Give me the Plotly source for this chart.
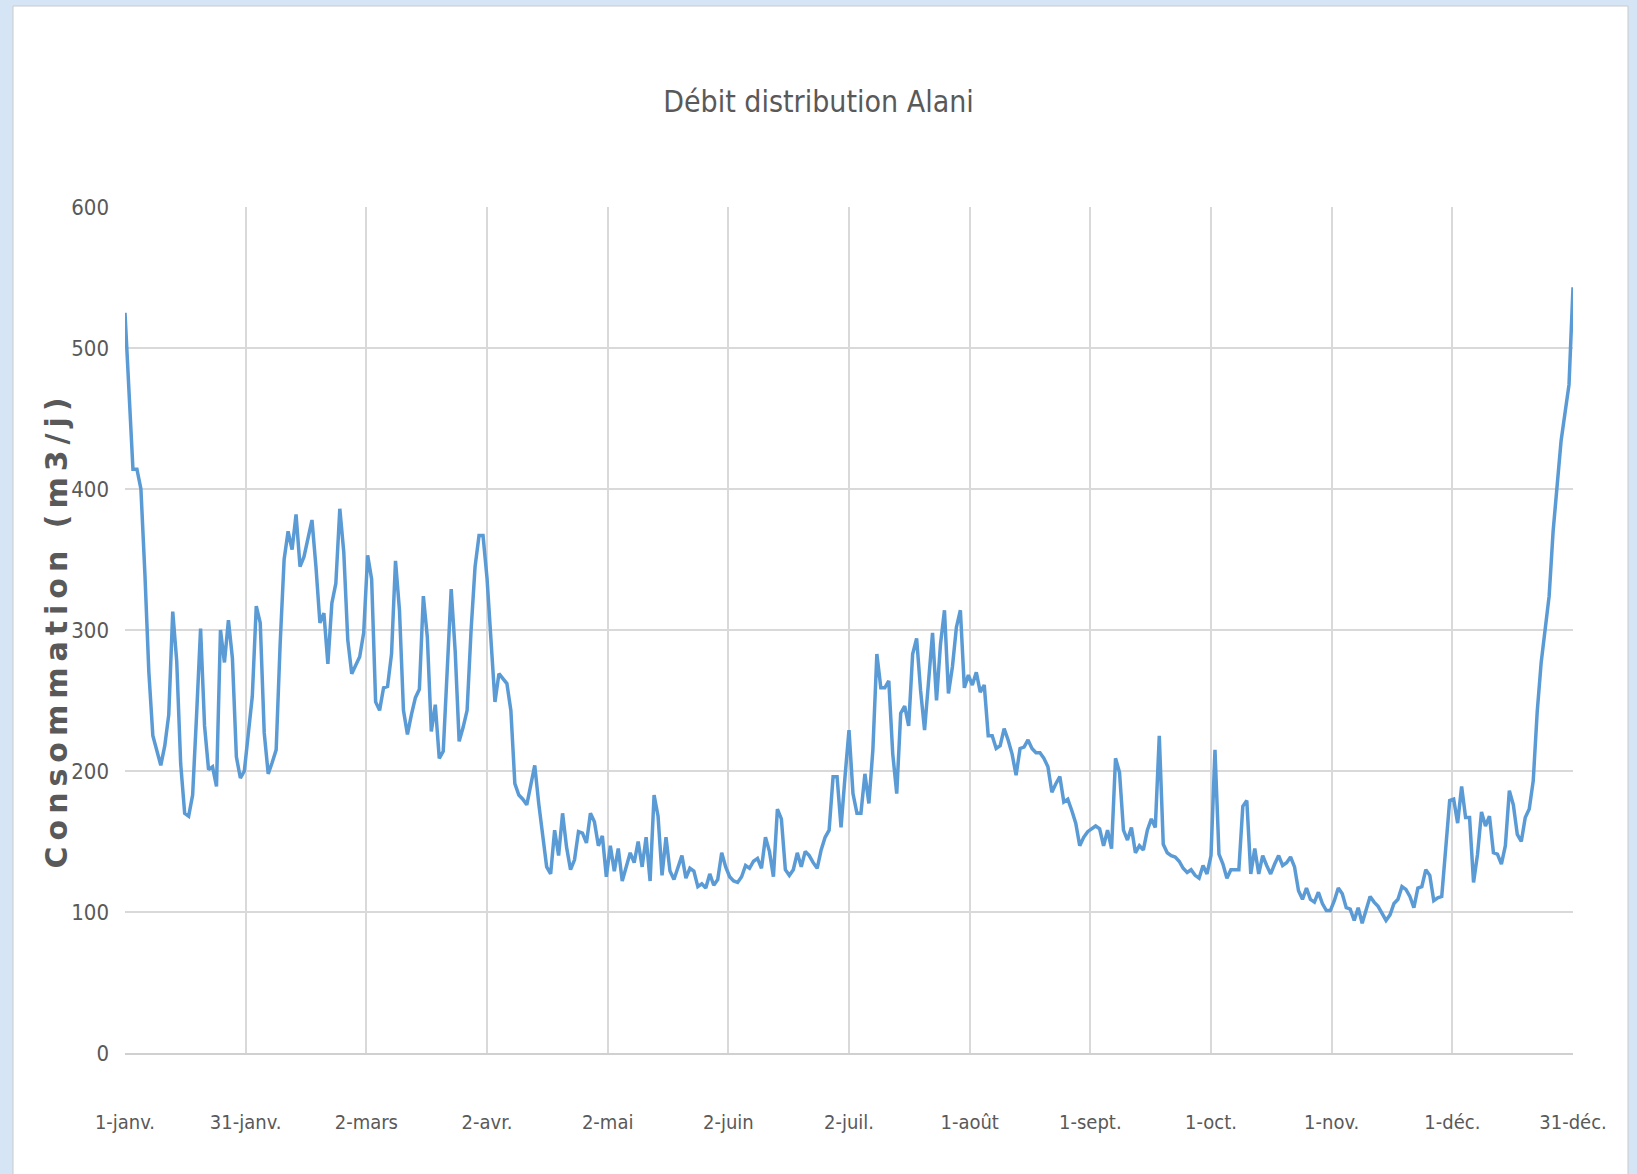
import pandas as pd
import plotly.graph_objects as go

# Débit journalier (m3/j), du 1er janvier au 31 décembre
debit = [
    525, 465, 414, 414, 400, 340, 270, 225, 214, 204,
    218, 240, 313, 278, 205, 170, 168, 183, 240, 301,
    232, 201, 203, 189, 300, 277, 307, 280, 210, 195,
    200, 225, 253, 317, 305, 227, 198, 206, 215, 290,
    350, 370, 357, 382, 345, 352, 365, 378, 345, 305,
    312, 276, 319, 333, 386, 355, 293, 269, 275, 281,
    298, 353, 336, 249, 243, 259, 260, 283, 349, 314,
    243, 226, 240, 252, 258, 324, 295, 228, 247, 209,
    214, 266, 329, 285, 221, 231, 243, 300, 345, 367,
    367, 337, 290, 249, 269, 265, 262, 243, 191, 183,
    180, 176, 189, 204, 177, 153, 132, 127, 158, 140,
    170, 146, 130, 137, 157, 156, 149, 170, 164, 147,
    154, 125, 147, 129, 145, 122, 132, 142, 135, 150,
    132, 153, 122, 183, 168, 126, 153, 129, 123, 132,
    140, 124, 131, 129, 118, 120, 117, 127, 119, 123,
    142, 132, 125, 122, 121, 125, 133, 131, 136, 138,
    131, 153, 143, 125, 173, 166, 130, 126, 130, 142,
    132, 143, 140, 135, 131, 144, 153, 158, 196, 196,
    160, 196, 229, 184, 170, 170, 198, 177, 215, 283,
    259, 259, 264, 212, 184, 241, 246, 232, 283, 294,
    257, 229, 264, 298, 250, 290, 314, 255, 274, 302,
    314, 259, 268, 261, 270, 256, 261, 225, 225, 216,
    218, 230, 222, 212, 197, 216, 217, 222, 216, 213,
    213, 209, 203, 185, 191, 196, 178, 180, 172, 163,
    147, 153, 157, 159, 161, 159, 147, 158, 145, 209,
    199, 158, 151, 160, 142, 147, 144, 158, 166, 160,
    225, 148, 142, 140, 139, 136, 131, 128, 130, 126,
    124, 133, 127, 140, 215, 141, 134, 124, 130, 130,
    130, 175, 179, 127, 145, 127, 140, 133, 127, 134,
    140, 133, 135, 139, 132, 115, 109, 117, 109, 107,
    114, 106, 101, 101, 108, 117, 113, 103, 102, 94,
    103, 92, 101, 111, 107, 104, 99, 94, 98, 106,
    109, 118, 116, 111, 103, 117, 118, 130, 126, 108,
    110, 111, 145, 179, 180, 163, 189, 167, 167, 121,
    141, 171, 161, 168, 142, 141, 134, 147, 186, 176,
    155, 150, 167, 173, 193, 242, 277, 300, 324, 370,
    405, 434, 454, 474, 543,
]
dates = pd.date_range("2019-01-01", periods=len(debit), freq="D")

tick_labels = ["1-janv.", "31-janv.", "2-mars", "2-avr.", "2-mai", "2-juin", "2-juil.",
               "1-août", "1-sept.", "1-oct.", "1-nov.", "1-déc.", "31-déc."]
# graduations régulièrement espacées comme dans Excel
span = dates[-1] - dates[0]
tick_vals = [dates[0] + span * i / (len(tick_labels) - 1) for i in range(len(tick_labels))]

y_ticks = [0, 100, 200, 300, 400, 500, 600]

W, H = 1637, 1174
L, R, T, B = 125, 64, 207, 121
pw, ph = W - L - R, H - T - B


def px_x(p):
    return (p - L) / pw


def px_y(p):
    return (H - B - p) / ph


FONT = "Liberation Sans Narrow, DejaVu Sans Condensed, Arial Narrow, Roboto, sans-serif"
GREY = "#595959"

fig = go.Figure()
fig.add_trace(
    go.Scatter(
        x=dates,
        y=debit,
        mode="lines",
        line=dict(color="#5b9bd5", width=3.5),
        showlegend=False,
    )
)

# fond du cadre (bande bleue à gauche, zone graphique blanche)
fig.add_shape(type="rect", xref="paper", yref="paper", layer="below",
              x0=px_x(13), x1=px_x(1628), y0=px_y(H + 10), y1=px_y(6),
              fillcolor="white", line=dict(color="#c9c9c9", width=1))

fig.add_annotation(
    text='<span style="letter-spacing:6px">Consommation (m3/j)</span>',
    xref="paper", yref="paper",
    x=px_x(36), y=0.5,
    textangle=-90,
    showarrow=False,
    font=dict(family="DejaVu Sans, Verdana, sans-serif", size=30, color=GREY, weight="bold"),
)

fig.update_layout(
    width=W,
    height=H,
    margin=dict(l=L, r=R, t=T, b=B),
    paper_bgcolor="#d5e5f5",
    plot_bgcolor="white",
    title=dict(
        text="Débit distribution Alani",
        x=0.5, xref="container", xanchor="center",
        y=1 - 101 / H, yanchor="middle",
        font=dict(family=FONT, size=30, color=GREY),
    ),
    xaxis=dict(
        range=[dates[0], dates[-1]],
        tickmode="array",
        tickvals=tick_vals,
        ticktext=tick_labels,
        showgrid=True,
        gridcolor="#d9d9d9",
        gridwidth=1.5,
        zeroline=False,
        showline=True,
        linecolor="#d0d0d0",
        linewidth=1.5,
        ticks="",
        ticklabelstandoff=50,
        tickfont=dict(family=FONT, size=20, color=GREY),
    ),
    yaxis=dict(
        range=[0, 600],
        tickmode="array",
        tickvals=y_ticks,
        showgrid=True,
        gridcolor="#d9d9d9",
        gridwidth=1.5,
        zeroline=False,
        showline=False,
        ticks="",
        ticklabelstandoff=15,
        tickfont=dict(family=FONT, size=22, color=GREY),
    ),
)

fig.write_html(
    "out.html",
    config={"displayModeBar": False},
    post_script="document.body.style.margin = '0';",
)
